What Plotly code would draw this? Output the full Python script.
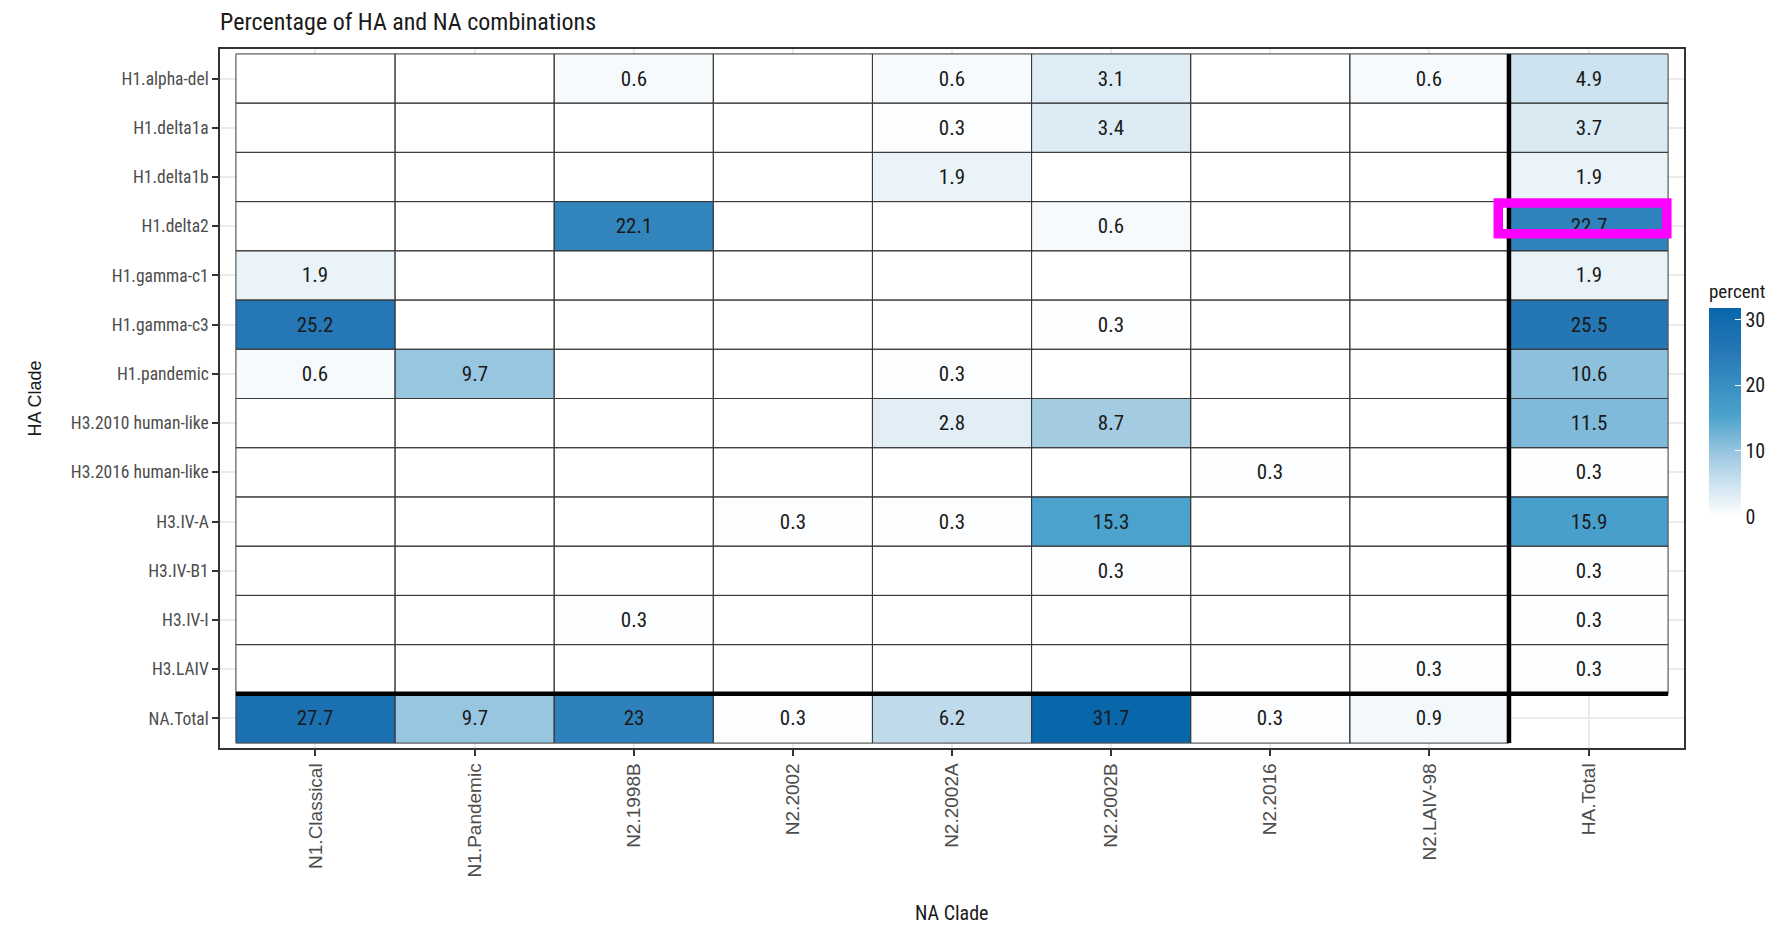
import plotly.graph_objects as go

# ---------------- data ----------------
na_clades = ["N1.Classical", "N1.Pandemic", "N2.1998B", "N2.2002", "N2.2002A",
             "N2.2002B", "N2.2016", "N2.LAIV-98", "HA.Total"]
ha_clades = ["H1.alpha-del", "H1.delta1a", "H1.delta1b", "H1.delta2", "H1.gamma-c1",
             "H1.gamma-c3", "H1.pandemic", "H3.2010 human-like", "H3.2016 human-like",
             "H3.IV-A", "H3.IV-B1", "H3.IV-I", "H3.LAIV", "NA.Total"]

# percent values, one list per HA clade (row), columns follow na_clades; None = no tile
h1_alpha_del = [0, 0, 0.6, 0, 0.6, 3.1, 0, 0.6, 4.9]
h1_delta1a   = [0, 0, 0, 0, 0.3, 3.4, 0, 0, 3.7]
h1_delta1b   = [0, 0, 0, 0, 1.9, 0, 0, 0, 1.9]
h1_delta2    = [0, 0, 22.1, 0, 0, 0.6, 0, 0, 22.7]
h1_gamma_c1  = [1.9, 0, 0, 0, 0, 0, 0, 0, 1.9]
h1_gamma_c3  = [25.2, 0, 0, 0, 0, 0.3, 0, 0, 25.5]
h1_pandemic  = [0.6, 9.7, 0, 0, 0.3, 0, 0, 0, 10.6]
h3_2010      = [0, 0, 0, 0, 2.8, 8.7, 0, 0, 11.5]
h3_2016      = [0, 0, 0, 0, 0, 0, 0.3, 0, 0.3]
h3_iv_a      = [0, 0, 0, 0.3, 0.3, 15.3, 0, 0, 15.9]
h3_iv_b1     = [0, 0, 0, 0, 0, 0.3, 0, 0, 0.3]
h3_iv_i      = [0, 0, 0.3, 0, 0, 0, 0, 0, 0.3]
h3_laiv      = [0, 0, 0, 0, 0, 0, 0, 0.3, 0.3]
na_total     = [27.7, 9.7, 23, 0.3, 6.2, 31.7, 0.3, 0.9, None]

z = [h1_alpha_del, h1_delta1a, h1_delta1b, h1_delta2, h1_gamma_c1, h1_gamma_c3,
     h1_pandemic, h3_2010, h3_2016, h3_iv_a, h3_iv_b1, h3_iv_i, h3_laiv, na_total]

highlight_row = "H1.delta2"
highlight_col = "HA.Total"

# ---------------- styling ----------------
NARROW = "Liberation Sans Narrow, Roboto Condensed, DejaVu Sans Condensed, Arial Narrow, Liberation Sans, sans-serif"
REG = "Liberation Sans, Arial, sans-serif"

def fmt(v):
    if v is None or v == 0:
        return ""
    return ("%g" % v)

text = [[fmt(v) for v in row] for row in z]
ncol, nrow = len(na_clades), len(ha_clades)
zmax = max(v for row in z for v in row if v is not None)

colorscale = [
    [0.0, "#FFFFFF"],
    [0.02, "#F6FAFC"],
    [0.155, "#CDE3EF"],
    [0.306, "#98C6E0"],
    [0.483, "#4BA2CC"],
    [0.795, "#2677B5"],
    [1.0, "#0866AB"],
]

W, H = 1782, 917          # page body has an 8px margin
L, R, T, B = 212, 1676, 41, 740   # plot area in figure pixels
PW, PH = R - L, B - T

fig = go.Figure()
fig.add_trace(go.Heatmap(
    z=z, x=list(range(ncol)), y=list(range(nrow)),
    text=text, texttemplate="%{text}",
    textfont=dict(family=NARROW, size=21, color="#1A1A1A"),
    colorscale=colorscale, zmin=0, zmax=zmax,
    hoverongaps=False,
    colorbar=dict(
        title=dict(text="percent", side="top", font=dict(family=NARROW, size=19, color="#1A1A1A")),
        tickvals=[0, 10, 20, 30], ticks="inside", tickcolor="white", ticklen=6,
        tickfont=dict(family=NARROW, size=20, color="#1A1A1A"),
        lenmode="pixels", len=236, thickness=32,
        x=(1701 - L) / PW, xanchor="left", y=(B - 390.5) / PH, yanchor="middle",
        xpad=0, ypad=0, outlinewidth=0,
    ),
))

shapes = []
# tile borders
for r in range(nrow):
    for c in range(ncol):
        if z[r][c] is None:
            continue
        shapes.append(dict(type="rect", xref="x", yref="y",
                           x0=c - 0.5, x1=c + 0.5, y0=r - 0.5, y1=r + 0.5,
                           line=dict(color="#3A3A3A", width=1)))
# thick separators before totals
shapes.append(dict(type="line", xref="x", yref="y", x0=-0.5, x1=ncol - 0.5,
                   y0=nrow - 1.5, y1=nrow - 1.5, line=dict(color="black", width=4.5)))
shapes.append(dict(type="line", xref="x", yref="y", x0=ncol - 1.5, x1=ncol - 1.5,
                   y0=-0.5, y1=nrow - 0.5, line=dict(color="black", width=4.5)))
# magenta highlight
hr, hc = ha_clades.index(highlight_row), na_clades.index(highlight_col)
shapes.append(dict(type="rect", xref="x", yref="y",
                   x0=hc - 0.567, x1=hc + 0.492, y0=hr - 0.472, y1=hr + 0.154,
                   line=dict(color="#FF00FF", width=9.5)))

fig.update_layout(
    width=W, height=H,
    margin=dict(l=L, r=W - R, t=T, b=H - B),
    paper_bgcolor="white", plot_bgcolor="white",
    shapes=shapes,
    title=dict(text="Percentage of HA and NA combinations",
               x=L / W, xanchor="left", xref="container",
               y=1 - 14 / H, yanchor="middle", yref="container",
               font=dict(family=NARROW, size=24, color="#1A1A1A")),
    xaxis=dict(range=[-0.6, ncol - 0.4], tickvals=list(range(ncol)), ticktext=na_clades,
               tickangle=-90, tickfont=dict(family=REG, size=19, color="#4D4D4D"),
               ticks="outside", ticklen=6, tickwidth=1.5, tickcolor="#333333",
               showgrid=True, gridcolor="#EBEBEB", gridwidth=1.5, zeroline=False,
               showline=True, mirror=True, linecolor="#333333", linewidth=1.5),
    yaxis=dict(range=[nrow - 0.4, -0.6], tickvals=list(range(nrow)), ticktext=ha_clades,
               tickfont=dict(family=NARROW, size=17.5, color="#4D4D4D"),
               ticks="outside", ticklen=6, tickwidth=1.5, tickcolor="#333333",
               showgrid=True, gridcolor="#EBEBEB", gridwidth=1.5, zeroline=False,
               showline=True, mirror=True, linecolor="#333333", linewidth=1.5),
    annotations=[
        dict(text="HA Clade", xref="paper", yref="paper", x=(26 - L) / PW, y=0.5,
             xanchor="center", yanchor="middle", textangle=-90, showarrow=False,
             font=dict(family=REG, size=18, color="#1A1A1A")),
        dict(text="NA Clade", xref="paper", yref="paper", x=0.5, y=(B - 905) / PH,
             xanchor="center", yanchor="middle", showarrow=False,
             font=dict(family=NARROW, size=20, color="#1A1A1A")),
    ],
)

fig.write_html("out.html")
